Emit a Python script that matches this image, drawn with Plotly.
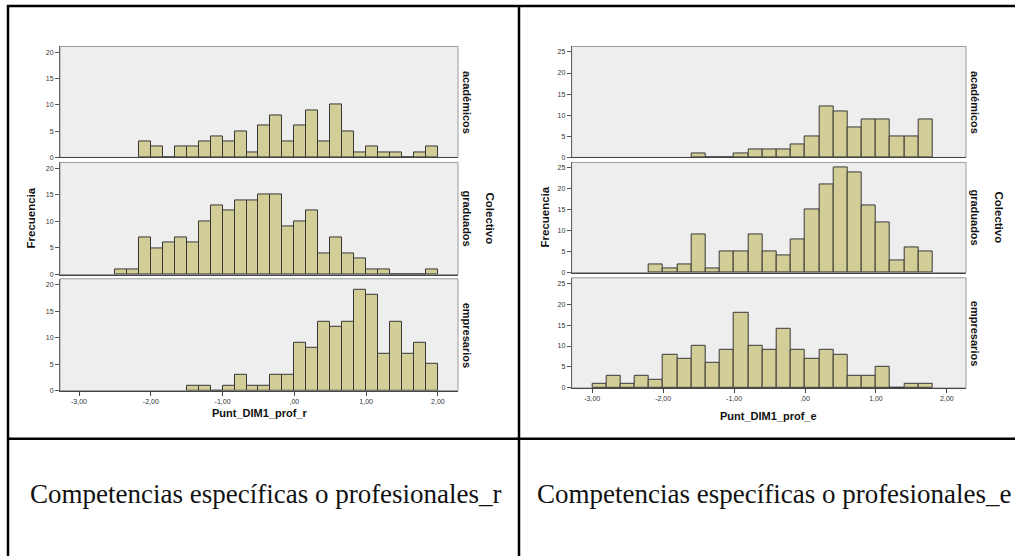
import plotly.graph_objects as go

W, H = 1015, 559

# --- Histogram counts (Frecuencia) per group -------------------------------
grupos = ["académicos", "graduados", "empresarios"]

# Punt_DIM1_prof_r : bin width 1/6
ancho_r = 1 / 6
inicio_r = [-13 / 6, -2.5, -1.5]
frec_r = [
    [3, 2, 0, 2, 2, 3, 4, 3, 5, 1, 6, 8, 3, 6, 9, 3, 10, 5, 1, 2, 1, 1, 0, 1, 2],
    [1, 1, 7, 5, 6, 7, 6, 10, 13, 12, 14, 14, 15, 15, 9, 10, 12, 4, 7, 4, 3, 1, 1, 0, 0, 0, 1],
    [1, 1, 0, 1, 3, 1, 1, 3, 3, 9, 8, 13, 12, 13, 19, 18, 7, 13, 7, 9, 5],
]

# Punt_DIM1_prof_e : bin width 0.2
ancho_e = 0.2
inicio_e = [-1.6, -2.2, -3.0]
frec_e = [
    [1, 0, 0, 1, 2, 2, 2, 3, 5, 12, 11, 7, 9, 9, 5, 5, 9],
    [2, 1, 2, 9, 1, 5, 5, 9, 5, 4, 8, 15, 21, 25, 24, 16, 12, 3, 6, 5],
    [1, 3, 1, 3, 2, 8, 7, 10, 6, 9, 18, 10, 9, 14, 9, 7, 9, 8, 3, 3, 5, 0, 1, 1],
]

x_ticks = [-3, -2, -1, 0, 1, 2]
x_ticktext = ["-3,00", "-2,00", "-1,00", ",00", "1,00", "2,00"]
y_ticks_r = [0, 5, 10, 15, 20]
y_ticks_e = [0, 5, 10, 15, 20, 25]

titulo_x = ["Punt_DIM1_prof_r", "Punt_DIM1_prof_e"]
leyendas = ["Competencias específicas o profesionales_r",
            "Competencias específicas o profesionales_e"]

BAR_FILL = "#D3CE97"
BAR_LINE = "#383838"
PANEL_BG = "#EEEEEE"
FONT = "Liberation Sans, Arial, sans-serif"


def px_x(p):
    return p / W


def px_y(p):
    return 1 - p / H


fig = go.Figure()

# pixel layout of the two panel stacks
charts = [
    dict(x0=60, x1=458, panels=[(46.7, 158.3), (163.3, 276), (280.3, 392.7)],
         xr=[-3.265, 2.28], yr=[0, 21.1], yt=y_ticks_r,
         starts=inicio_r, width=ancho_r, counts=frec_r,
         frec_x=31, grp_x=467, col_x=490, xt_y=415, caption_x=28),
    dict(x0=571.7, x1=966, panels=[(46.7, 158.3), (163.3, 274), (279.3, 390)],
         xr=[-3.29, 2.27], yr=[0, 26.3], yt=y_ticks_e,
         starts=inicio_e, width=ancho_e, counts=frec_e,
         frec_x=545, grp_x=975, col_x=999, xt_y=418, caption_x=535),
]


def label(text, x, y, size=10, angle=0, family=FONT, xanchor="center"):
    return dict(text=text, textangle=angle, xref="paper", yref="paper",
                x=px_x(x), y=px_y(y), showarrow=False,
                xanchor=xanchor, yanchor="middle",
                font=dict(family=family, size=size, color="#111111"))


layout_axes = {}
shapes = []
annotations = []
k = 0
for ci, ch in enumerate(charts):
    for pi, (top, bot) in enumerate(ch["panels"]):
        k += 1
        xa = "x" if k == 1 else f"x{k}"
        ya = "y" if k == 1 else f"y{k}"
        cnt = ch["counts"][pi]
        centers = [ch["starts"][pi] + (i + 0.5) * ch["width"] for i in range(len(cnt))]
        fig.add_trace(go.Bar(
            x=centers, y=cnt, width=ch["width"],
            marker=dict(color=BAR_FILL, line=dict(color=BAR_LINE, width=1)),
            xaxis=xa, yaxis=ya, showlegend=False, hoverinfo="x+y",
        ))
        last = pi == len(ch["panels"]) - 1
        layout_axes["xaxis" if k == 1 else f"xaxis{k}"] = dict(
            domain=[px_x(ch["x0"]), px_x(ch["x1"])],
            anchor=ya, range=ch["xr"], showgrid=False, zeroline=False,
            showline=True, linecolor="#444444", linewidth=1,
            ticks="outside" if last else "", ticklen=4, tickcolor="#444444",
            tickvals=x_ticks, ticktext=x_ticktext, showticklabels=last,
            tickfont=dict(family=FONT, size=7, color="#333333"),
        )
        layout_axes["yaxis" if k == 1 else f"yaxis{k}"] = dict(
            domain=[px_y(bot), px_y(top)],
            anchor=xa, range=ch["yr"], showgrid=False, zeroline=False,
            showline=True, linecolor="#666666", linewidth=1,
            ticks="outside", ticklen=4, tickcolor="#555555",
            tickvals=ch["yt"], ticktext=[str(v) for v in ch["yt"]],
            tickfont=dict(family=FONT, size=7, color="#333333"),
        )
        # panel frame
        shapes.append(dict(type="rect", xref=f"{xa} domain", yref=f"{ya} domain",
                           x0=0, x1=1, y0=0, y1=1, line=dict(color="#9A9A9A", width=1),
                           fillcolor="rgba(0,0,0,0)", layer="below"))
        # group label on the right
        annotations.append(label(f"<b>{grupos[pi]}</b>", ch["grp_x"], (top + bot) / 2,
                                 size=11, angle=90))
    mid_top, mid_bot = ch["panels"][1]
    annotations.append(label("<b>Frecuencia</b>", ch["frec_x"], (mid_top + mid_bot) / 2,
                             size=11.5, angle=-90))
    annotations.append(label("<b>Colectivo</b>", ch["col_x"], (mid_top + mid_bot) / 2,
                             size=11.5, angle=90))
    annotations.append(label(f"<b>{titulo_x[ci]}</b>", (ch["x0"] + ch["x1"]) / 2, ch["xt_y"],
                             size=11))
    annotations.append(label(leyendas[ci], ch["caption_x"], 497, size=27,
                             family="Liberation Serif, Times New Roman, serif",
                             xanchor="left"))

# table rules
tbl = dict(color="#000000", width=2.5)
shapes += [
    dict(type="line", xref="paper", yref="paper", x0=px_x(7), x1=1, y0=px_y(6), y1=px_y(6), line=tbl),
    dict(type="line", xref="paper", yref="paper", x0=px_x(8), x1=px_x(8), y0=px_y(5), y1=0, line=tbl),
    dict(type="line", xref="paper", yref="paper", x0=px_x(519), x1=px_x(519), y0=px_y(5), y1=0, line=tbl),
    dict(type="line", xref="paper", yref="paper", x0=px_x(7), x1=1, y0=px_y(441), y1=px_y(441), line=tbl),
]

fig.update_layout(
    width=W, height=H, margin=dict(l=0, r=0, t=0, b=0),
    paper_bgcolor="#FFFFFF", plot_bgcolor=PANEL_BG,
    bargap=0, shapes=shapes, annotations=annotations, showlegend=False,
    **layout_axes,
)

fig.write_html("out.html")
